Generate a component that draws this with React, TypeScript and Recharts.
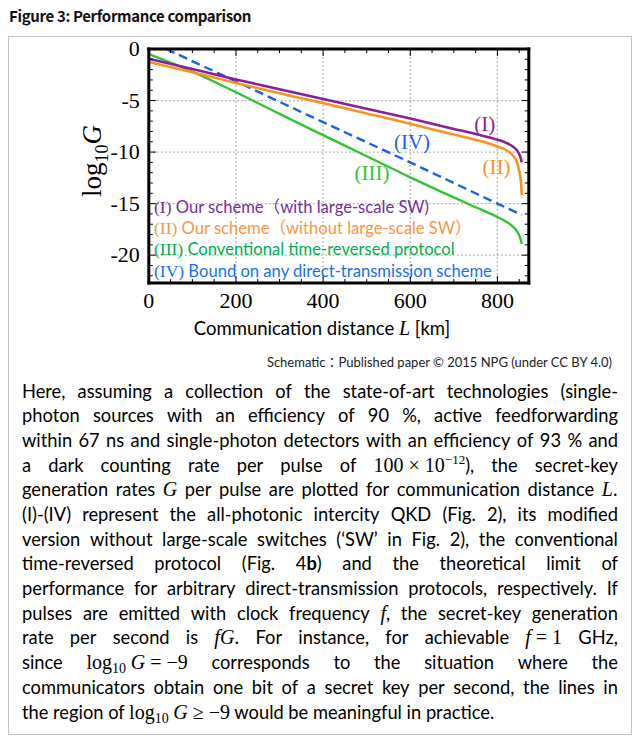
import React from 'react';
import { LineChart, Line, XAxis, YAxis, ReferenceLine, ReferenceDot } from 'recharts';

// ---- data ----
const distI = [0, 100, 200, 300, 400, 500, 600, 700, 750, 800, 820, 835, 845, 852, 856];
const logGI = [-0.95, -1.95, -2.95, -3.9, -4.85, -5.8, -6.75, -7.75, -8.25, -8.8, -9.1, -9.45, -9.85, -10.4, -11.0];
const distII = [0, 100, 200, 300, 400, 500, 600, 700, 750, 800, 820, 835, 845, 850, 854, 856];
const logGII = [-1.25, -2.25, -3.3, -4.3, -5.25, -6.25, -7.25, -8.3, -8.8, -9.45, -9.8, -10.3, -11.0, -11.8, -12.9, -14.2];
const distIII = [0, 100, 200, 300, 400, 500, 600, 700, 750, 800, 820, 835, 845, 852, 856];
const logGIII = [-0.5, -2.2, -4.2, -6.3, -8.35, -10.4, -12.45, -14.4, -15.35, -16.3, -16.75, -17.2, -17.7, -18.3, -18.9];
const distIV = [40, 200, 400, 600, 800, 856];
const logGIV = [0, -3.15, -7.1, -11.0, -15.0, -16.1];

const xTicks = [0, 50, 100, 150, 200, 250, 300, 350, 400, 450, 500, 550, 600, 650, 700, 750, 800, 850];
const xMajor = [0, 200, 400, 600, 800];
const yTicks = [0, -1, -2, -3, -4, -5, -6, -7, -8, -9, -10, -11, -12, -13, -14, -15, -16, -17, -18, -19, -20, -21, -22];
const yMajor = [0, -5, -10, -15, -20];
const gridX = [200, 400, 600, 800];
const gridY = [-5, -10, -15, -20];

const seriesNames = ['(I)', '(II)', '(III)', '(IV)'];
const legendRest = [
  ' Our scheme\uFF08with large-scale SW)',
  ' Our scheme\uFF08without large-scale SW\uFF09',
  ' Conventional time-reversed protocol',
  ' Bound on any direct-transmission scheme',
];
const lineColors = ['#8b1f98', '#f7941d', '#33c433', '#1a62e6'];
const legendColors = ['#7030a0', '#f79646', '#00b050', '#1a6ff0'];
const labelX = [771, 798, 512, 604];
const labelY = [-7.27, -11.45, -12.0, -9.0];

const mk = (xs: number[], ys: number[]) => xs.map((L, i) => ({ L, G: ys[i] }));
const dataI = mk(distI, logGI);
const dataII = mk(distII, logGII);
const dataIII = mk(distIII, logGIII);
const dataIV = mk(distIV, logGIV);

const SERIF = '"Liberation Serif", "Times New Roman", serif';
const SANS = 'Lato, "Noto Sans CJK JP", sans-serif';

const BottomTick = (p: any) => {
  const { x, y, payload } = p;
  const v = payload.value;
  const major = xMajor.includes(v);
  return (
    <g>
      <line x1={x} x2={x} y1={y} y2={y - (major ? 7 : 4)} stroke="#000" strokeWidth={1} />
      {major && (
        <text x={x} y={y + 25} textAnchor="middle" fontFamily={SERIF} fontSize={22} fill="#000">{v}</text>
      )}
    </g>
  );
};
const TopTick = (p: any) => {
  const { x, y, payload } = p;
  const major = xMajor.includes(payload.value);
  return <line x1={x} x2={x} y1={y} y2={y + (major ? 7 : 4)} stroke="#000" strokeWidth={1} />;
};
const LeftTick = (p: any) => {
  const { x, y, payload } = p;
  const v = payload.value;
  const major = yMajor.includes(v);
  return (
    <g>
      <line x1={x} x2={x + (major ? 7 : 4)} y1={y} y2={y} stroke="#000" strokeWidth={1} />
      {major && (
        <text x={x - 9} y={y + 7} textAnchor="end" fontFamily={SERIF} fontSize={22} fill="#000">{String(v)}</text>
      )}
    </g>
  );
};
const RightTick = (p: any) => {
  const { x, y, payload } = p;
  const major = yMajor.includes(payload.value);
  return <line x1={x} x2={x - (major ? 7 : 4)} y1={y} y2={y} stroke="#000" strokeWidth={1} />;
};

const axisLine = { stroke: '#000', strokeWidth: 3, strokeLinecap: 'square' as const };

const Word = ({ children }: { children: React.ReactNode }) => <span>{children}</span>;
const M = ({ children }: { children: React.ReactNode }) => (
  <span style={{ fontFamily: SERIF, fontSize: 20 }}>{children}</span>
);
const I = ({ children }: { children: React.ReactNode }) => (
  <span style={{ fontFamily: SERIF, fontStyle: 'italic', fontSize: 20 }}>{children}</span>
);
const Log = () => (
  <span style={{ fontFamily: SERIF, fontSize: 20 }}>log<span style={{ fontSize: 14, position: 'relative', top: 4 }}>10</span></span>
);

const w = (s: string) => s.split(' ');

const paraLines: React.ReactNode[][] = [
  w('Here, assuming a collection of the state-of-art technologies (single-'),
  w('photon sources with an efficiency of 90 %, active feedforwarding'),
  w('within 67 ns and single-photon detectors with an efficiency of 93 % and'),
  [...w('a dark counting rate per pulse of'), <><M>100 × 10<span style={{ fontSize: 13, position: 'relative', top: -8 }}>−12</span></M>),</>, 'the', 'secret-key'],
  [...w('generation rates'), <I>G</I>, ...w('per pulse are plotted for communication distance'), <><I>L</I><M>.</M></>],
  w('(I)-(IV) represent the all-photonic intercity QKD (Fig. 2), its modified'),
  w('version without large-scale switches (\u2018SW\u2019 in Fig. 2), the conventional'),
  [...w('time-reversed protocol (Fig.'), <>4<b>b</b>)</>, ...w('and the theoretical limit of')],
  w('performance for arbitrary direct-transmission protocols, respectively. If'),
  [...w('pulses are emitted with clock frequency'), <><I>f</I>,</>, ...w('the secret-key generation')],
  [...w('rate per second is'), <><I>fG</I><M>.</M></>, ...w('For instance, for achievable'), <><I>f</I><M> = 1</M></>, 'GHz,'],
  ['since', <><Log /> <I>G</I><M> = −9</M></>, ...w('corresponds to the situation where the')],
  w('communicators obtain one bit of a secret key per second, the lines in'),
];

export default function App() {
  return (
    <div style={{ position: 'absolute', left: 0, top: 0, width: 640, height: 743, background: '#fff', overflow: 'hidden' }}>
      <div style={{ position: 'absolute', left: 9, top: 4, fontFamily: '"Noto Sans CJK JP", sans-serif', fontWeight: 700, fontSize: 15, letterSpacing: -0.35, color: '#111', lineHeight: '24px' }}>
        Figure 3: Performance comparison
      </div>
      <div style={{ position: 'absolute', left: 8, top: 36, width: 622, height: 697, border: '1.5px solid #c4c4c4' }} />

      <div style={{ position: 'absolute', left: 0, top: 0 }}>
        <LineChart width={640} height={345} margin={{ top: 39, left: 88.8, right: 101.2, bottom: 22 }}>
          <XAxis dataKey="L" type="number" domain={[0, 872]} ticks={xTicks} interval={0} tickSize={0} tickMargin={0}
            tickLine={false} axisLine={axisLine} tick={(p: any) => <BottomTick {...p} />} height={40} allowDataOverflow />
          <XAxis xAxisId="top" orientation="top" dataKey="L" type="number" domain={[0, 872]} ticks={xTicks} interval={0}
            tickSize={0} tickMargin={0} tickLine={false} axisLine={axisLine} tick={(p: any) => <TopTick {...p} />} height={10} allowDataOverflow />
          <YAxis type="number" domain={[-22.7, 0]} ticks={yTicks} interval={0} tickSize={0} tickMargin={0} tickLine={false}
            axisLine={axisLine} tick={(p: any) => <LeftTick {...p} />} width={60} allowDataOverflow />
          <YAxis yAxisId="right" orientation="right" type="number" domain={[-22.7, 0]} ticks={yTicks} interval={0} tickSize={0}
            tickMargin={0} tickLine={false} axisLine={axisLine} tick={(p: any) => <RightTick {...p} />} width={10} allowDataOverflow />

          {gridX.map((v) => (
            <ReferenceLine key={'gx' + v} x={v} stroke="#b8b8b8" strokeWidth={1.3} strokeDasharray="2 2" />
          ))}
          {gridY.map((v) => (
            <ReferenceLine key={'gy' + v} y={v} stroke="#b8b8b8" strokeWidth={1.3} strokeDasharray="2 2" />
          ))}

          <Line data={dataIII} dataKey="G" name={seriesNames[2]} type="monotone" stroke={lineColors[2]} strokeWidth={2.4} dot={false} isAnimationActive={false} />
          <Line data={dataIV} dataKey="G" name={seriesNames[3]} type="linear" stroke={lineColors[3]} strokeWidth={2.4} strokeDasharray="9 5" dot={false} isAnimationActive={false} />
          <Line data={dataII} dataKey="G" name={seriesNames[1]} type="monotone" stroke={lineColors[1]} strokeWidth={2.6} dot={false} isAnimationActive={false} />
          <Line data={dataI} dataKey="G" name={seriesNames[0]} type="monotone" stroke={lineColors[0]} strokeWidth={2.6} dot={false} isAnimationActive={false} />

          {seriesNames.map((n, i) => (
            <ReferenceDot key={n} x={labelX[i]} y={labelY[i]} r={0} fill="none" stroke="none"
              label={{ value: n, position: 'center', fill: lineColors[i], fontSize: 21, fontFamily: SERIF }} />
          ))}
        </LineChart>
      </div>

      {/* legend inside plot */}
      <div style={{ position: 'absolute', left: 154, top: 197 }}>
        {seriesNames.map((n, i) => (
          <div key={n} style={{ color: legendColors[i], height: 21.2, lineHeight: '21.2px', whiteSpace: 'nowrap', fontSize: 16.6, fontFamily: SANS }}>
            <span style={{ fontFamily: SERIF, fontSize: 17.5 }}>{n}</span>{legendRest[i]}
          </div>
        ))}
      </div>

      {/* y label */}
      <svg style={{ position: 'absolute', left: 0, top: 0 }} width={140} height={300}>
        <text transform="rotate(-90 101 161)" x={101} y={161} textAnchor="middle" fontFamily={SERIF} fontSize={27} fill="#000">
          log<tspan fontSize={18} dy={7}>10</tspan><tspan dy={-7} fontStyle="italic">G</tspan>
        </text>
      </svg>

      {/* x label */}
      <div style={{ position: 'absolute', left: 0, width: 644, top: 315, textAlign: 'center', fontFamily: SANS, fontSize: 18.5, color: '#000', lineHeight: '26px' }}>
        Communication distance <span style={{ fontFamily: SERIF, fontStyle: 'italic', fontSize: 20 }}>L</span> [km]
      </div>

      <div style={{ position: 'absolute', right: 28, top: 352, fontFamily: SANS, fontSize: 13, color: '#222', lineHeight: '20px' }}>
        Schematic{'\uFF1A'}Published paper © 2015 NPG (under CC BY 4.0)
      </div>

      <div style={{ position: 'absolute', left: 22, top: 378.6, width: 596, fontFamily: SANS, fontSize: 18.3, color: '#000' }}>
        {paraLines.map((ln, i) => (
          <div key={i} style={{ display: 'flex', justifyContent: 'space-between', alignItems: 'baseline', height: 24.7, lineHeight: '24.7px', whiteSpace: 'nowrap' }}>
            {ln.map((t, j) => <Word key={j}>{t}</Word>)}
          </div>
        ))}
        <div style={{ height: 24.7, lineHeight: '24.7px', whiteSpace: 'nowrap' }}>
          the region of <Log /> <I>G</I><M> ≥ −9</M> would be meaningful in practice.
        </div>
      </div>
    </div>
  );
}
